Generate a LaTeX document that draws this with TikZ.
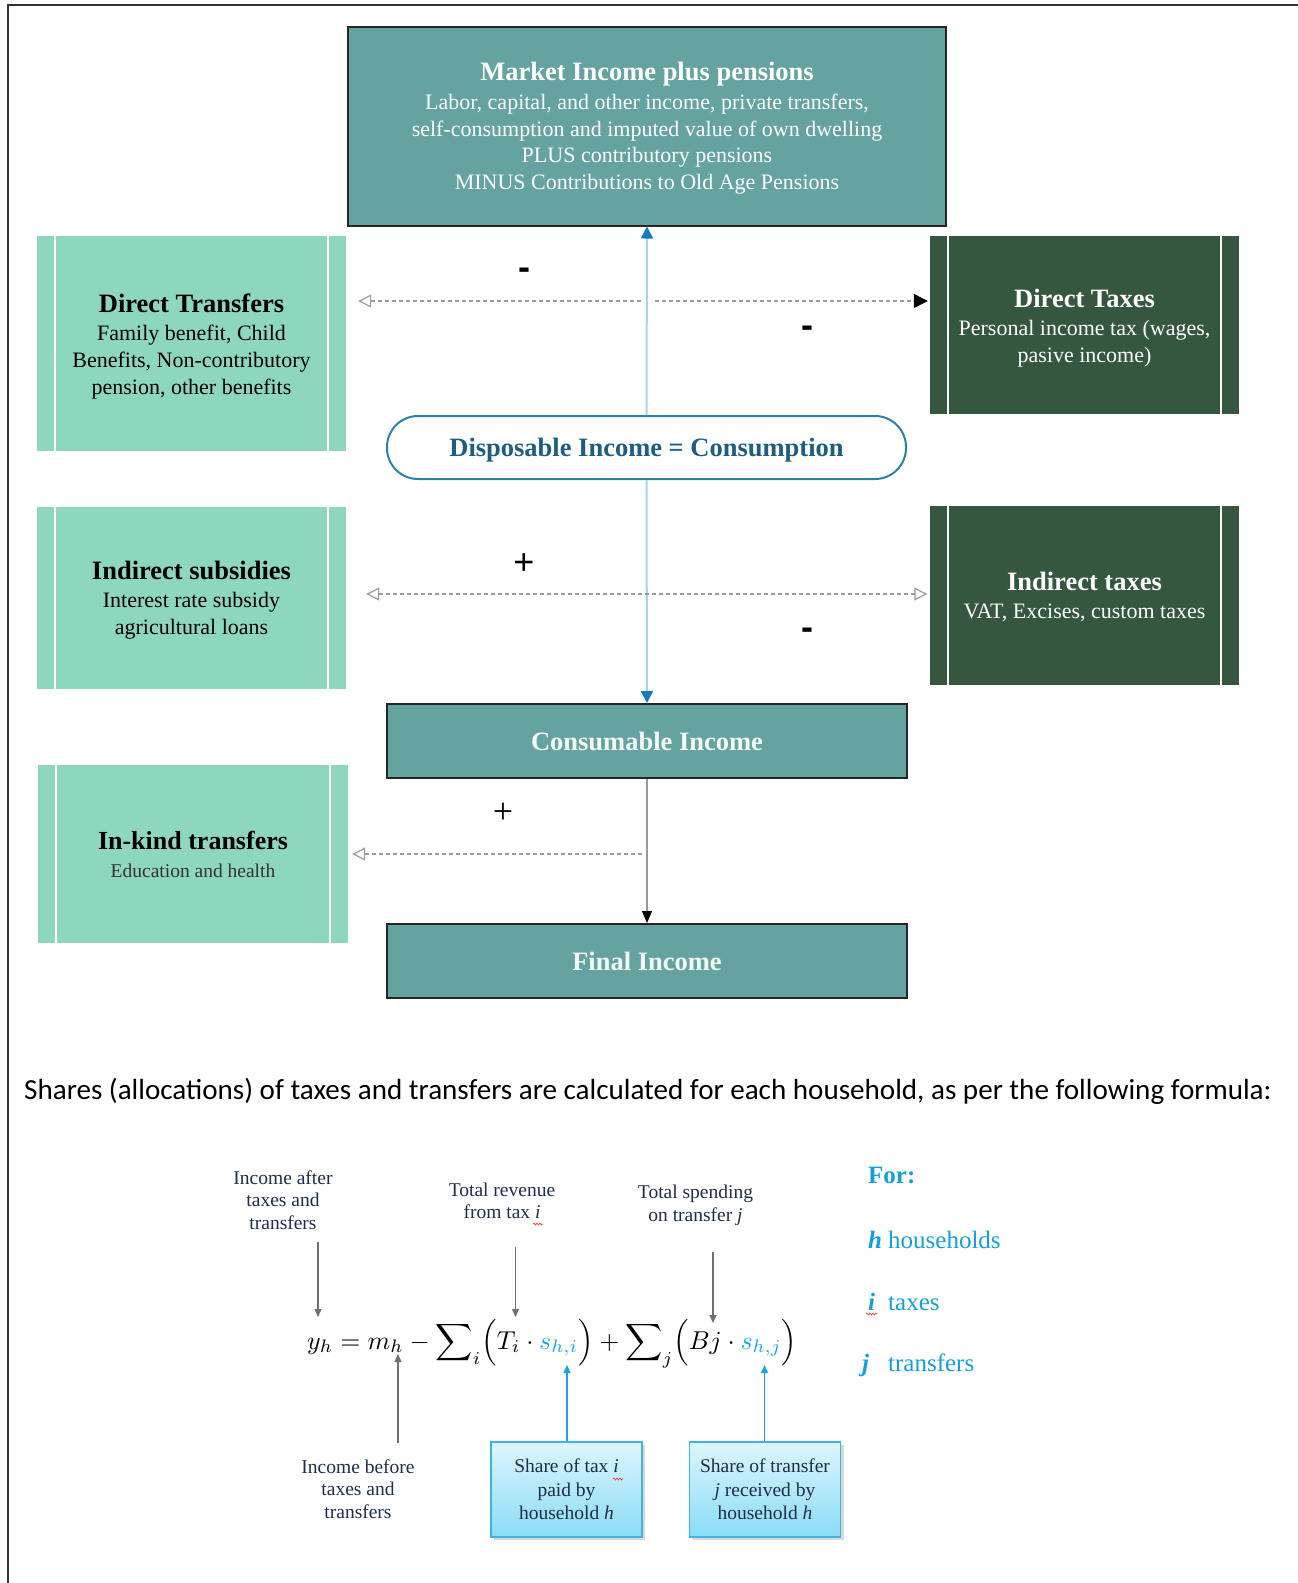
\documentclass[tikz,border=0pt]{standalone}
\usepackage{fontspec}
\usepackage{graphicx}
\setmainfont{Liberation Serif}
\newfontfamily\carlito{Carlito}
\newfontfamily\arialfont{Liberation Sans}
\usetikzlibrary{arrows.meta,shadows,decorations.pathmorphing}

\definecolor{tealbox}{HTML}{64A39F}
\definecolor{mintbox}{HTML}{8ED7BF}
\definecolor{forest}{HTML}{35573F}
\definecolor{dispblue}{HTML}{2F7FA8}
\definecolor{disptext}{HTML}{1D5E80}
\definecolor{vline}{HTML}{A9D3EC}
\definecolor{vtip}{HTML}{0E7DBF}
\definecolor{dashgray}{HTML}{9A9A9A}
\definecolor{navy}{HTML}{1F2D4A}
\definecolor{sblue}{HTML}{17A6DE}
\definecolor{legendblue}{HTML}{12A0DA}
\definecolor{cyantop}{HTML}{DDF6FD}
\definecolor{cyanbot}{HTML}{8ADCF7}
\definecolor{cyanedge}{HTML}{3DB4E4}
\definecolor{annotgray}{HTML}{707070}

\newcommand{\fs}[2]{\fontsize{#1}{#2}\selectfont}

\begin{document}
\begin{tikzpicture}[x=1pt,y=-1pt,
  tealnode/.style={draw=black!85, line width=2pt, fill=tealbox, text=white,
    inner sep=0pt, align=center},
  stripes/.style={path picture={
    \draw[white, line width=1.5pt]
      ([xshift=18pt]path picture bounding box.north west) -- ([xshift=18pt]path picture bounding box.south west)
      ([xshift=-18pt]path picture bounding box.north east) -- ([xshift=-18pt]path picture bounding box.south east);}},
  mintnode/.style={fill=mintbox, inner sep=0pt, minimum width=309pt, stripes},
  forestnode/.style={fill=forest, inner sep=0pt, minimum width=309pt, stripes},
  boxtext/.style={align=center, inner sep=0pt, font=\fs{22}{27}},
  dashline/.style={draw=dashgray, line width=1.2pt, dash pattern=on 4pt off 3pt},
  vblue/.style={draw=vline, line width=2pt},
  signlabel/.style={font=\arialfont\bfseries\fs{36}{40}, inner sep=0pt},
  pluslabel/.style={font=\arialfont\fs{36}{40}, inner sep=0pt},
  annot/.style={font=\fs{19.5}{22.5}, text=navy, align=center, inner sep=2pt},
  annotarrow/.style={draw=annotgray, line width=1.2pt, -{Triangle[length=8pt,width=7pt,color=annotgray]}},
  bluearrow/.style={draw=sblue, line width=1.5pt, -{Triangle[length=8pt,width=7pt,color=sblue]}},
  sharebox/.style={draw=cyanedge, line width=1.2pt, top color=cyantop, bottom color=cyanbot,
    minimum width=151pt, minimum height=95pt, text=navy, font=\fs{19.5}{23.5}, align=center,
    inner sep=0pt, drop shadow={opacity=0.3, shadow xshift=3pt, shadow yshift=-3pt}},
  legendtext/.style={anchor=west, text=legendblue, font=\fs{25}{28}, inner sep=0pt},
  squiggle/.style={draw=red!75, line width=0.7pt, decorate,
    decoration={snake, amplitude=1pt, segment length=3pt}}
]
\useasboundingbox (0,0) rectangle (1298,1583);

% page frame (left and top rules)
\draw[line width=2pt, black!80] (8,1583) -- (8,5) -- (1298,5);

% ---------- income concepts ----------
\node[tealnode, minimum width=598pt, minimum height=199pt] (market) at (647,126) {};
\node[boxtext, text=white, font=\fs{22}{26.6}] (markettext) at (647,128)
  {{\fs{26.5}{29}\bfseries Market Income plus pensions}\\[2.4pt]
   Labor, capital, and other income, private transfers,\\
   self-consumption and imputed value of own dwelling\\
   PLUS contributory pensions\\
   MINUS Contributions to Old Age Pensions};

\node[draw=dispblue, line width=2pt, fill=white, rounded corners=31pt,
  minimum width=519pt, minimum height=63pt, inner sep=0pt] (disp) at (646.5,447.5) {};
\node[inner sep=0pt, text=disptext, font=\fs{26.5}{29}\bfseries] (disptext) at (646.5,450)
  {Disposable Income = Consumption};

\node[tealnode, minimum width=520pt, minimum height=74pt, text=white!93!tealbox,
  font=\fs{26.5}{29}\bfseries] (cons) at (647,741) {Consumable Income};

\node[tealnode, minimum width=520pt, minimum height=74pt, text=white!93!tealbox,
  font=\fs{26.5}{29}\bfseries] (final) at (647,961) {Final Income};

% ---------- taxes and transfers ----------
\node[mintnode, minimum height=215pt] (dtrans) at (191.5,343.5) {};
\node[boxtext] (dtranstext) at (191.5,346.5)
  {{\fs{26.5}{29}\bfseries Direct Transfers}\\[1pt]
   Family benefit, Child\\ Benefits, Non-contributory\\ pension, other benefits};

\node[forestnode, minimum height=178pt] (dtax) at (1084.5,325) {};
\node[boxtext, text=white] (dtaxtext) at (1084.5,328.5)
  {{\fs{26.5}{29}\bfseries Direct Taxes}\\[1pt]
   Personal income tax (wages,\\ pasive income)};

\node[mintnode, minimum height=182pt] (isub) at (191.5,598) {};
\node[boxtext] (isubtext) at (191.5,600.5)
  {{\fs{26.5}{29}\bfseries Indirect subsidies}\\[1pt]
   Interest rate subsidy\\ agricultural loans};

\node[forestnode, minimum height=179pt] (itax) at (1084.5,595.5) {};
\node[boxtext, text=white] (itaxtext) at (1084.5,596.5)
  {{\fs{26.5}{29}\bfseries Indirect taxes}\\[1pt]
   VAT, Excises, custom taxes};

\node[mintnode, minimum width=310pt, minimum height=178pt] (inkind) at (193,854) {};
\node[boxtext] (inkindtext) at (193,854)
  {{\fs{26}{29}\bfseries In-kind transfers}\\[1pt]
   {\fs{19.5}{22}\color{black!80}Education and health}};

% ---------- main flow ----------
\draw[vblue, -{Triangle[length=12pt,width=12pt,color=vtip]}] (disp.north) -- (market.south);
\draw[vblue, -{Triangle[length=12pt,width=12pt,color=vtip]}] (disp.south) -- (cons.north);
\draw[draw=black!40, line width=1.2pt, -{Triangle[length=12pt,width=10pt,color=black]}] (cons.south) -- (final.north);

% ---------- side flows ----------
\coordinate (r1l) at (641,301);
\coordinate (r1r) at (655,301);
\coordinate (r2)  at (647,594);
\coordinate (r3)  at (642,854);

\draw[dashline, -{Triangle[open,length=13pt,width=13pt]}, shorten >=12pt] (r1l) -- (dtrans.east |- r1l);
\draw[dashline, -{Triangle[length=14pt,width=14pt,color=black]}, shorten >=2pt] (r1r) -- (dtax.west |- r1r);
\draw[dashline, {Triangle[open,length=13pt,width=13pt]}-{Triangle[open,length=13pt,width=13pt]},
  shorten <=20pt, shorten >=2.5pt] (isub.east |- r2) -- (itax.west |- r2);
\draw[dashline, -{Triangle[open,length=13pt,width=13pt]}, shorten >=4pt] (r3) -- (inkind.east |- r3);

\node[signlabel] (s1) at (524,273.5) {-};
\node[signlabel] (s2) at (807.5,332) {-};
\node[pluslabel] (s3) at (524,564) {+};
\node[signlabel] (s4) at (807.5,634) {-};
\node[font=\fs{36}{40}, inner sep=0pt] (s5) at (503,813) {+};

% ---------- formula section ----------
\node[anchor=west, font=\carlito\fs{29.1}{33}, inner sep=0pt] (sentence) at (24,1091)
  {Shares (allocations) of taxes and transfers are calculated for each household, as per the following formula:};

\node[anchor=base west, inner sep=0pt] (formula) at (307,1349)
  {\resizebox{490pt}{!}{$y_h = m_h - \displaystyle\sum\nolimits_i \Bigl(T_i \cdot {\color{sblue}s_{h,i}}\Bigr) + \sum\nolimits_j \Bigl(Bj \cdot {\color{sblue}s_{h,j}}\Bigr)$}};

\coordinate (yh)  at (318,1317);
\coordinate (ti)  at (515.5,1317);
\coordinate (bj)  at (713,1323);
\coordinate (mh)  at (398,1354);
\coordinate (shi) at (567,1365);
\coordinate (shj) at (764.5,1365);

\node[annot] (after) at (283,1200) {Income after\\ taxes and\\ transfers};
\node[annot] (revenue) at (502,1201) {Total revenue\\ from tax \textit{i}};
\node[annot] (spending) at (695.5,1205.5) {Total spending\\ on transfer \textit{j}};
\node[annot] (before) at (358,1489) {Income before\\ taxes and\\ transfers};

\node[sharebox] (sharetax) at (566.5,1489.5) {Share of tax \textit{i}\\ paid by\\ household \textit{h}};
\node[sharebox] (sharetr) at (765,1489.5) {Share of transfer\\ \textit{j} received by\\ household \textit{h}};

\draw[annotarrow, shorten <=10pt] (yh |- after.south) -- (yh);
\draw[annotarrow, shorten <=26pt] (ti |- revenue.south) -- (ti);
\draw[annotarrow, shorten <=24pt] (bj |- spending.south) -- (bj);
\draw[annotarrow, shorten <=14pt] (mh |- before.north) -- (mh);
\draw[bluearrow] (sharetax.north -| shi) -- (shi);
\draw[bluearrow] (sharetr.north -| shj) -- (shj);

% spell-check marks under the index letters
\draw[squiggle] (533,1224) -- (543,1224);
\draw[squiggle] (613,1479) -- (623,1479);
\draw[squiggle] (866,1314) -- (877,1314);

% legend
\node[legendtext, font=\fs{25}{28}\bfseries] (for) at (868,1175) {For:};
\node[legendtext] (lh) at (868,1240) {\makebox[20pt][l]{\textbf{\textit{h}}}households};
\node[legendtext] (li) at (868,1302) {\makebox[20pt][l]{\textbf{\textit{i}}}taxes};
\node[legendtext] (lj) at (862,1365) {\makebox[26pt][l]{\textbf{\textit{j}}}transfers};
\end{tikzpicture}
\end{document}
